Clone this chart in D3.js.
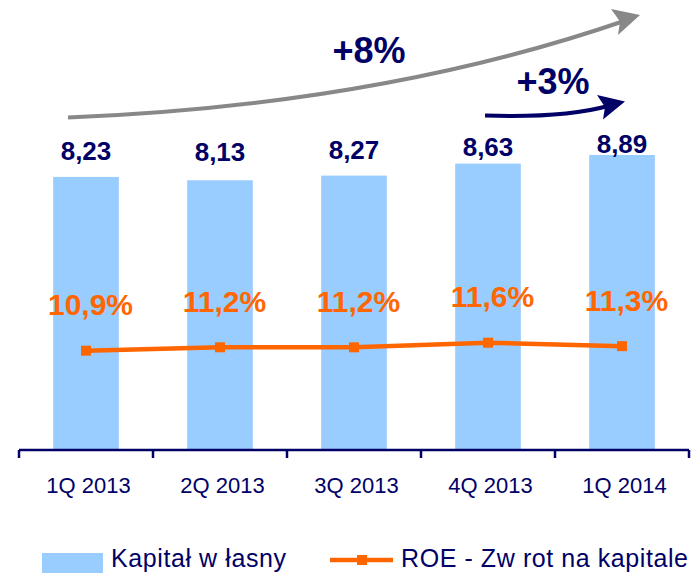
<!DOCTYPE html>
<html>
<head>
<meta charset="utf-8">
<script src="https://cdn.jsdelivr.net/npm/d3@7"></script>
<style>
  html, body { margin: 0; padding: 0; background: #fff; }
  svg { display: block; font-family: "Liberation Sans", Arial, sans-serif; }
</style>
</head>
<body>
<svg id="chart" width="693" height="573"></svg>
<script>
// Quarterly equity (bars) and return on equity (line)
const categories = ["1Q 2013", "2Q 2013", "3Q 2013", "4Q 2013", "1Q 2014"];
const equity = [8.23, 8.13, 8.27, 8.63, 8.89];
const equityLabels = ["8,23", "8,13", "8,27", "8,63", "8,89"];
const roe = [10.9, 11.2, 11.2, 11.6, 11.3];
const roeLabels = ["10,9%", "11,2%", "11,2%", "11,6%", "11,3%"];
const growthLabels = ["+8%", "+3%"];
const legendLabels = ["Kapitał w łasny", "ROE - Zw rot na kapitale"];

const NAVY = "#000066", BLUE = "#99CCFF", ORANGE = "#FF6600", GREY = "#888888";

const svg = d3.select("#chart");

const x = d3.scaleBand().domain(categories).range([19, 689])
  .paddingInner(0.51).paddingOuter(0.255);
const y = d3.scaleLinear().domain([0, 10]).range([451, 118]);
const y2 = d3.scaleLinear().domain([0, 20]).range([475.3, 246.7]);
// value labels sit on a compressed scale above the bars
const yLabel = d3.scaleLinear().domain([0, 10]).range([249.6, 140.6]);

const data = categories.map((c, i) => ({
  cat: c, eq: equity[i], eqLabel: equityLabels[i], roe: roe[i], roeLabel: roeLabels[i]
}));

// bars
svg.append("g").selectAll("rect").data(data).join("rect")
  .attr("x", d => x(d.cat))
  .attr("y", d => y(d.eq))
  .attr("width", x.bandwidth())
  .attr("height", d => y(0) - y(d.eq))
  .attr("fill", BLUE);

// bar value labels
svg.append("g").selectAll("text").data(data).join("text")
  .attr("x", d => x(d.cat) + x.bandwidth() / 2)
  .attr("y", d => yLabel(d.eq))
  .attr("text-anchor", "middle")
  .attr("font-size", 26).attr("font-weight", "bold")
  .attr("fill", NAVY)
  .text(d => d.eqLabel);

// category axis with ticks at band boundaries
const axisY = 450;
const axis = svg.append("g").attr("transform", `translate(0,${axisY})`);
axis.call(d3.axisBottom(x).tickSize(0).tickPadding(0))
  .call(g => g.select(".domain").remove())
  .call(g => g.selectAll("text")
    .attr("y", 43).attr("dy", null).attr("dx", 2.5)
    .attr("font-size", 22).attr("fill", NAVY)
    .attr("font-family", "'Liberation Sans', Arial, sans-serif"));
const x0 = x.range()[0], x1 = x.range()[1];
axis.append("line").attr("x1", x0).attr("x2", x1).attr("y1", 0).attr("y2", 0)
  .attr("stroke", NAVY).attr("stroke-width", 2.5);
const edges = d3.range(categories.length + 1).map(i => x0 + i * x.step());
axis.selectAll("line.edge").data(edges).join("line").attr("class", "edge")
  .attr("x1", d => d).attr("x2", d => d).attr("y1", 0).attr("y2", 8)
  .attr("stroke", NAVY).attr("stroke-width", 2.5);

// ROE line
const cx = d => x(d.cat) + x.bandwidth() / 2;
svg.append("path").datum(data)
  .attr("d", d3.line().x(cx).y(d => y2(d.roe)))
  .attr("fill", "none").attr("stroke", ORANGE).attr("stroke-width", 4.5);
svg.append("g").selectAll("rect").data(data).join("rect")
  .attr("x", d => cx(d) - 5).attr("y", d => y2(d.roe) - 5)
  .attr("width", 10).attr("height", 10).attr("fill", ORANGE);

// ROE labels
svg.append("g").selectAll("text").data(data).join("text")
  .attr("x", d => cx(d) + 4.5)
  .attr("y", d => y2(d.roe) - 35.5)
  .attr("text-anchor", "middle")
  .attr("font-size", 30).attr("font-weight", "bold")
  .attr("fill", ORANGE)
  .text(d => d.roeLabel);

// growth arrows
function arrow(p0, c, p2, tip, barbA, notch, barbB, color, width) {
  svg.append("path")
    .attr("d", `M${p0[0]},${p0[1]} Q${c[0]},${c[1]} ${p2[0]},${p2[1]}`)
    .attr("fill", "none").attr("stroke", color).attr("stroke-width", width);
  svg.append("path")
    .attr("d", `M${tip[0]},${tip[1]} L${barbA[0]},${barbA[1]} L${notch[0]},${notch[1]} L${barbB[0]},${barbB[1]} Z`)
    .attr("fill", color);
}
arrow([68, 117.5], [380, 105], [624, 21], [640, 15], [611, 9], [620, 21.5], [618, 35], GREY, 4);
arrow([485, 115.5], [565, 118], [608, 106], [625, 101.5], [597, 95], [605, 107], [603, 119.5], NAVY, 4);

svg.append("text").attr("x", 369).attr("y", 63)
  .attr("text-anchor", "middle").attr("font-size", 36).attr("font-weight", "bold")
  .attr("fill", NAVY).text(growthLabels[0]);
svg.append("text").attr("x", 553).attr("y", 94)
  .attr("text-anchor", "middle").attr("font-size", 36).attr("font-weight", "bold")
  .attr("fill", NAVY).text(growthLabels[1]);

// legend
const legend = svg.append("g");
legend.append("rect").attr("x", 42).attr("y", 553).attr("width", 61).attr("height", 20)
  .attr("fill", BLUE);
legend.append("text").attr("x", 111).attr("y", 566.5)
  .attr("font-size", 25).attr("fill", NAVY)
  .attr("textLength", 175).attr("lengthAdjust", "spacing")
  .text(legendLabels[0]);
legend.append("line").attr("x1", 330).attr("x2", 393).attr("y1", 560).attr("y2", 560)
  .attr("stroke", ORANGE).attr("stroke-width", 4.5);
legend.append("rect").attr("x", 357).attr("y", 555).attr("width", 10).attr("height", 10)
  .attr("fill", ORANGE);
legend.append("text").attr("x", 401).attr("y", 566.5)
  .attr("font-size", 25).attr("fill", NAVY)
  .attr("textLength", 287).attr("lengthAdjust", "spacing")
  .text(legendLabels[1]);
</script>
</body>
</html>
